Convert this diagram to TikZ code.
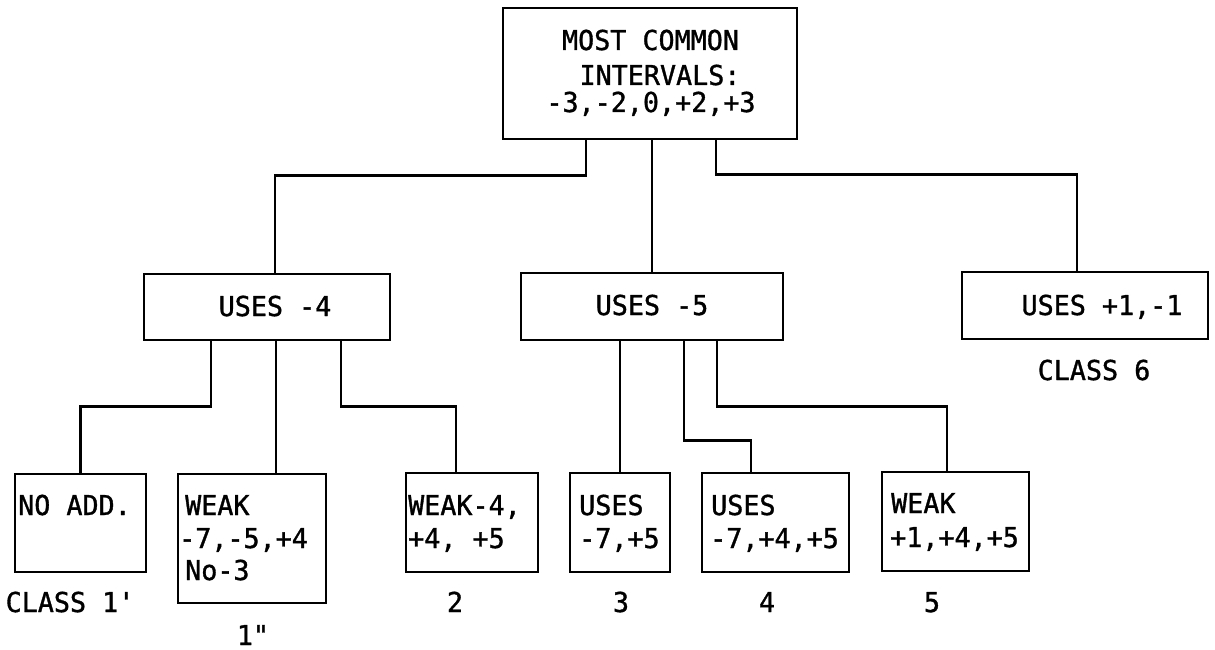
\documentclass[tikz,border=0pt]{standalone}
\usepackage{fontspec}
\setmonofont{DejaVu Sans Mono}[FakeBold=1.2, FakeStretch=0.975]
\begin{document}
\begin{tikzpicture}[x=1pt,y=-1pt,
  box/.style={draw, line width=2.8pt, inner sep=0pt, rectangle},
  conn/.style={line width=2.4pt},
  txt/.style={font=\ttfamily\fontsize{27.4pt}{33pt}\selectfont, inner sep=0pt, anchor=base west},
  ctxt/.style={txt, anchor=base}]
\useasboundingbox (0,0) rectangle (1215,650);
% boxes
\node[box, minimum width=294pt, minimum height=131pt] (top)  at (650,73.5) {};
\node[box, minimum width=246pt, minimum height=66pt]  (u4)   at (267,307) {};
\node[box, minimum width=262pt, minimum height=67pt]  (u5)   at (652,306.5) {};
\node[box, minimum width=246pt, minimum height=67pt]  (u1)   at (1085,305.5) {};
\node[box, minimum width=131pt, minimum height=98pt]  (na)   at (80.5,523) {};
\node[box, minimum width=148pt, minimum height=129pt] (wk)   at (252,538.5) {};
\node[box, minimum width=132pt, minimum height=99pt]  (w4)   at (472,522.5) {};
\node[box, minimum width=100pt, minimum height=99pt]  (u75)  at (620,522.5) {};
\node[box, minimum width=147pt, minimum height=99pt]  (u745) at (775.5,522.5) {};
\node[box, minimum width=147pt, minimum height=99pt]  (w145) at (955.5,521.5) {};
% connectors
\draw[conn] ([xshift=-64pt]top.south) -- ++(0,35) -| ([xshift=8pt]u4.north);
\draw[conn] ([xshift=2pt]top.south) -- (u5.north);
\draw[conn] ([xshift=66pt]top.south) -- ++(0,34) -| ([xshift=-8pt]u1.north);
\draw[conn] ([xshift=-56pt]u4.south) -- ++(0,65) -| (na.north);
\draw[conn] ([xshift=9pt]u4.south) -- ([xshift=24pt]wk.north);
\draw[conn] ([xshift=74pt]u4.south) -- ++(0,65) -| ([xshift=-16pt]w4.north);
\draw[conn] ([xshift=-32pt]u5.south) -- (u75.north);
\draw[conn] ([xshift=32pt]u5.south) -- ++(0,99) -| ([xshift=-24.5pt]u745.north);
\draw[conn] ([xshift=65pt]u5.south) -- ++(0,65) -| ([xshift=-8.5pt]w145.north);
% texts in boxes
\node[ctxt] (tl1) at (650.5,50) {MOST COMMON};
\node[ctxt] (tl2) at (660,85) {INTERVALS:};
\node[ctxt] (tl3) at (651,112) {-3,-2,0,+2,+3};
\node[ctxt] (tu4) at (275,316) {USES -4};
\node[ctxt] (tu5) at (652,315) {USES -5};
\node[ctxt] (tu1) at (1102,315) {USES +1,-1};
\node[txt] (tna) at (18,515) {NO ADD.};
\node[txt] (twk1) at (185,515) {WEAK};
\node[txt] (twk2) at (179,548) {-7,-5,+4};
\node[txt] (twk3) at (185,580) {No-3};
\node[txt] (tw41) at (408,515) {WEAK-4,};
\node[txt] (tw42) at (408,548) {+4, +5};
\node[txt] (tu751) at (579,515) {USES};
\node[txt] (tu752) at (579,548) {-7,+5};
\node[txt] (tu7451) at (711,515) {USES};
\node[txt] (tu7452) at (710,548) {-7,+4,+5};
\node[txt] (tw1451) at (891,513) {WEAK};
\node[txt] (tw1452) at (890,547) {+1,+4,+5};
% class labels
\node[ctxt] (c6)  at (1094,380) {CLASS 6};
\node[ctxt] (c1a) at (70,612) {CLASS 1'};
\node[ctxt] (c1b) at (253,645) {1"};
\node[ctxt] (c2)  at (455,612) {2};
\node[ctxt] (c3)  at (621,612) {3};
\node[ctxt] (c4)  at (767,612) {4};
\node[ctxt] (c5)  at (932,612) {5};
\end{tikzpicture}
\end{document}
